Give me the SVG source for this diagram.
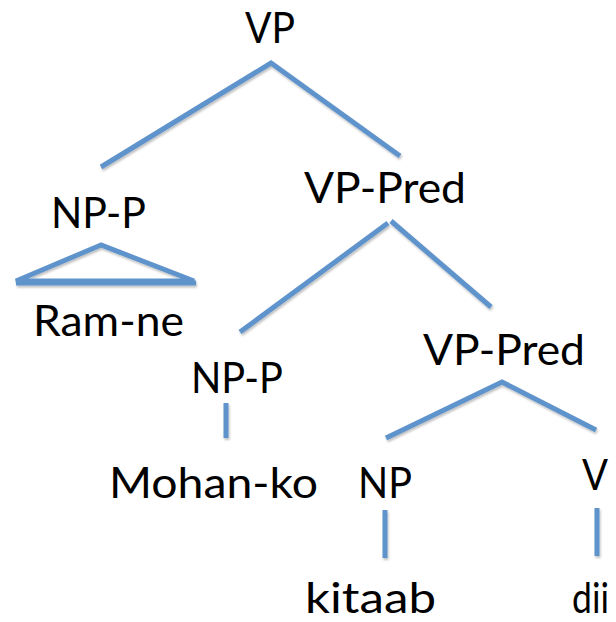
<svg xmlns="http://www.w3.org/2000/svg" width="616" height="622" viewBox="0 0 616 622">
  <style>
    .lbl { font-family: "Lato", "Open Sans", "Liberation Sans", sans-serif; font-size: 42px; fill: #000000; }
    .edge { stroke: #5F93CB; stroke-width: 5; fill: none; stroke-linecap: butt; stroke-linejoin: miter; }
  </style>
  <defs>
    <filter id="shadow" x="-10%" y="-10%" width="120%" height="130%">
      <feDropShadow dx="1" dy="2" stdDeviation="1.2" flood-color="#000000" flood-opacity="0.25"/>
    </filter>
  </defs>
  <rect x="0" y="0" width="616" height="622" fill="#ffffff"/>

  <g id="connectors" class="edges" filter="url(#shadow)">
    <polyline class="edge" points="101,167 271,63 400,156"/>
    <polygon class="edge" points="101,245 16,281 194,281"/>
    <line class="edge" x1="16" y1="283" x2="196" y2="283"/>
    <line class="edge" x1="240" y1="332" x2="388" y2="223"/>
    <line class="edge" x1="391" y1="221" x2="491" y2="307"/>
    <polyline class="edge" points="386,438 502,382 596,430"/>
    <line class="edge" x1="226" y1="403" x2="226" y2="438"/>
    <line class="edge" x1="385" y1="510" x2="385" y2="558"/>
    <line class="edge" x1="597" y1="508" x2="597" y2="556"/>
  </g>

  <g id="node-vp"><text class="lbl" x="245" y="43" textLength="50" lengthAdjust="spacingAndGlyphs">VP</text></g>
  <g id="node-np-p-1"><text class="lbl" x="51" y="228" textLength="95" lengthAdjust="spacingAndGlyphs">NP-P</text></g>
  <g id="node-vp-pred-1"><text class="lbl" x="304" y="203" textLength="162" lengthAdjust="spacingAndGlyphs">VP-Pred</text></g>
  <g id="node-ram-ne"><text class="lbl" x="33" y="336" textLength="151" lengthAdjust="spacingAndGlyphs">Ram-ne</text></g>
  <g id="node-np-p-2"><text class="lbl" x="191" y="393" textLength="92" lengthAdjust="spacingAndGlyphs">NP-P</text></g>
  <g id="node-vp-pred-2"><text class="lbl" x="423" y="365" textLength="162" lengthAdjust="spacingAndGlyphs">VP-Pred</text></g>
  <g id="node-mohan-ko"><text class="lbl" x="109" y="498" textLength="209" lengthAdjust="spacingAndGlyphs">Mohan-ko</text></g>
  <g id="node-np"><text class="lbl" x="358" y="498" textLength="54" lengthAdjust="spacingAndGlyphs">NP</text></g>
  <g id="node-v"><text class="lbl" x="582" y="490" textLength="26" lengthAdjust="spacingAndGlyphs">V</text></g>
  <g id="node-kitaab"><text class="lbl" x="305" y="613" textLength="131" lengthAdjust="spacingAndGlyphs">kitaab</text></g>
  <g id="node-dii"><text class="lbl" x="572" y="613" textLength="37" lengthAdjust="spacingAndGlyphs">dii</text></g>
</svg>
